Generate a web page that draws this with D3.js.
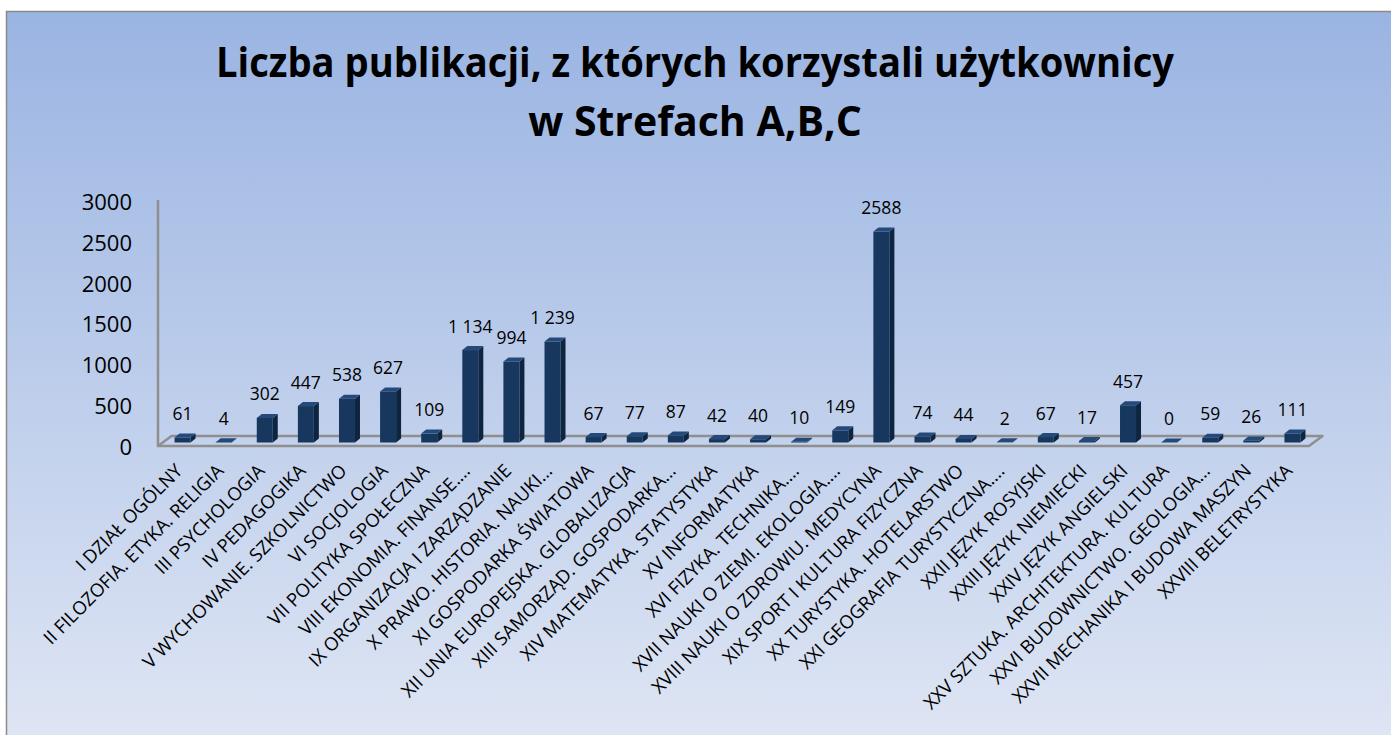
<!DOCTYPE html>
<html>
<head>
<meta charset="utf-8">
<script src="https://cdn.jsdelivr.net/npm/d3@7"></script>
<style>
  html, body { margin: 0; padding: 0; background: #fff; }
  svg { display: block; font-family: "Open Sans", "Noto Sans", sans-serif; }
</style>
</head>
<body>
<div id="chart"></div>
<script>
// kategorie (działy)
const categories = [
  'I DZIAŁ OGÓLNY',
  'II FILOZOFIA. ETYKA. RELIGIA',
  'III PSYCHOLOGIA',
  'IV PEDAGOGIKA',
  'V WYCHOWANIE. SZKOLNICTWO',
  'VI SOCJOLOGIA',
  'VII POLITYKA SPOŁECZNA',
  'VIII EKONOMIA. FINANSE.…',
  'IX ORGANIZACJA I ZARZĄDZANIE',
  'X PRAWO. HISTORIA. NAUKI…',
  'XI GOSPODARKA ŚWIATOWA',
  'XII UNIA EUROPEJSKA. GLOBALIZACJA',
  'XIII SAMORZĄD. GOSPODARKA…',
  'XIV MATEMATYKA. STATYSTYKA',
  'XV INFORMATYKA',
  'XVI FIZYKA. TECHNIKA.…',
  'XVII NAUKI O ZIEMI. EKOLOGIA.…',
  'XVIII NAUKI O ZDROWIU. MEDYCYNA',
  'XIX SPORT I KULTURA FIZYCZNA',
  'XX TURYSTYKA. HOTELARSTWO',
  'XXI GEOGRAFIA TURYSTYCZNA.…',
  'XXII JĘZYK ROSYJSKI',
  'XXIII JĘZYK NIEMIECKI',
  'XXIV JĘZYK ANGIELSKI',
  'XXV SZTUKA. ARCHITEKTURA. KULTURA',
  'XXVI BUDOWNICTWO. GEOLOGIA…',
  'XXVII MECHANIKA I BUDOWA MASZYN',
  'XXVIII BELETRYSTYKA'
]
// liczba publikacji
const values = [61, 4, 302, 447, 538, 627, 109, 1134, 994, 1239, 67, 77, 87, 42,
  40, 10, 149, 2588, 74, 44, 2, 67, 17, 457, 0, 59, 26, 111]
// etykiety danych tak jak na wykresie
const valueLabels = ['61', '4', '302', '447', '538', '627', '109', '1 134', '994', '1 239',
  '67', '77', '87', '42', '40', '10', '149', '2588', '74', '44', '2', '67', '17', '457',
  '0', '59', '26', '111']
const yTicks = [0, 500, 1000, 1500, 2000, 2500, 3000]
const titleLines = ['Liczba publikacji, z których korzystali użytkownicy', 'w Strefach A,B,C']

const width = 1391
const height = 735
const plotLeft = 158
const plotRight = 1309
// głębokość podłogi i słupków (pseudo 3D)
const floorDepth = { dx: 13.5, dy: -10 }
const barDepth = { dx: 5, dy: -4 }
const barShift = { dx: 4, dy: -3.5 }
const barWidth = 16

const svg = d3.select('#chart')
  .append('svg')
  .attr('width', width)
  .attr('height', height)

// tło z gradientem
const defs = svg.append('defs')
const grad = defs.append('linearGradient')
  .attr('id', 'bg')
  .attr('x1', 0).attr('y1', 0).attr('x2', 0).attr('y2', 1)
grad.append('stop').attr('offset', '0%').attr('stop-color', '#9ab4e2')
grad.append('stop').attr('offset', '100%').attr('stop-color', '#dfe6f4')

svg.append('rect')
  .attr('x', 6.5)
  .attr('y', 11.5)
  .attr('width', width)
  .attr('height', height)
  .attr('fill', 'url(#bg)')
  .attr('stroke', '#8a8a8a')
  .attr('stroke-width', 1.5)

// tytuł
const titleWidths = [958, 334]
const titleG = svg.append('g')
titleLines.forEach((line, i) => {
  const t = titleG.append('text')
    .attr('x', 695)
    .attr('y', 77 + i * 59)
    .attr('text-anchor', 'middle')
    .attr('font-size', 41)
    .attr('font-weight', 700)
    .attr('fill', '#000')
    .text(line)
  const len = t.node().getComputedTextLength()
  if (len > titleWidths[i]) {
    t.attr('textLength', titleWidths[i]).attr('lengthAdjust', 'spacingAndGlyphs')
  }
})

// skale
const x = d3.scaleBand()
  .domain(categories)
  .range([plotLeft, plotRight])
const y = d3.scaleLinear()
  .domain([0, 3000])
  .range([446, 201.5])

// oś Y - etykiety
const yAxis = d3.axisLeft(y)
  .tickValues(yTicks)
  .tickSize(0)
  .tickPadding(0)
  .tickFormat(d3.format('d'))
const yG = svg.append('g')
  .attr('transform', 'translate(132, 1)')
  .call(yAxis)
yG.select('.domain').remove()
yG.selectAll('text')
  .attr('font-size', 22)
  .attr('fill', '#000')
  .attr('font-family', '"Open Sans", sans-serif')

// linia osi pionowej
svg.append('line')
  .attr('x1', plotLeft).attr('x2', plotLeft)
  .attr('y1', 200).attr('y2', y(0))
  .attr('stroke', '#8f8f8f')
  .attr('stroke-width', 2.5)

// podłoga
const floorPts = [
  [plotLeft, y(0)],
  [plotRight, y(0)],
  [plotRight + floorDepth.dx, y(0) + floorDepth.dy],
  [plotLeft + floorDepth.dx, y(0) + floorDepth.dy]
]
svg.append('polygon')
  .attr('points', floorPts.map(p => p.join(',')).join(' '))
  .attr('fill', 'none')
  .attr('stroke', '#8f8f8f')
  .attr('stroke-width', 2.5)
  .attr('stroke-linejoin', 'round')

// słupki
const data = categories.map((c, i) => ({ name: c, value: values[i], label: valueLabels[i] }))
const cx = d => x(d.name) + x.bandwidth() / 2 + barShift.dx

const bars = svg.append('g').selectAll('g.bar')
  .data(data)
  .join('g')
  .attr('class', 'bar')

bars.each(function (d) {
  const g = d3.select(this)
  const l = cx(d) - barWidth / 2
  const r = cx(d) + barWidth / 2
  const b = y(0) + barShift.dy
  const t = y(d.value) + barShift.dy
  const { dx, dy } = barDepth
  // bok
  g.append('polygon')
    .attr('points', `${r},${t} ${r + dx},${t + dy} ${r + dx},${b + dy} ${r},${b}`)
    .attr('fill', '#0e2540')
  // przód
  g.append('rect')
    .attr('x', l)
    .attr('y', t)
    .attr('width', barWidth)
    .attr('height', Math.max(0, b - t))
    .attr('fill', '#17375e')
  // góra
  g.append('polygon')
    .attr('points', `${l},${t} ${r},${t} ${r + dx},${t + dy} ${l + dx},${t + dy}`)
    .attr('fill', '#234a7a')
})

// etykiety danych
svg.append('g').selectAll('text')
  .data(data)
  .join('text')
  .attr('x', d => cx(d))
  .attr('y', d => y(d.value) - 21)
  .attr('text-anchor', 'middle')
  .attr('font-size', 17.5)
  .attr('fill', '#000')
  .text(d => d.label)

// etykiety kategorii (obrócone)
svg.append('g').selectAll('text')
  .data(data)
  .join('text')
  .attr('transform', d => `translate(${cx(d) + 1}, 472) rotate(-45)`)
  .attr('text-anchor', 'end')
  .attr('font-size', 18.5)
  .attr('fill', '#000')
  .text(d => d.name)
</script>
</body>
</html>
